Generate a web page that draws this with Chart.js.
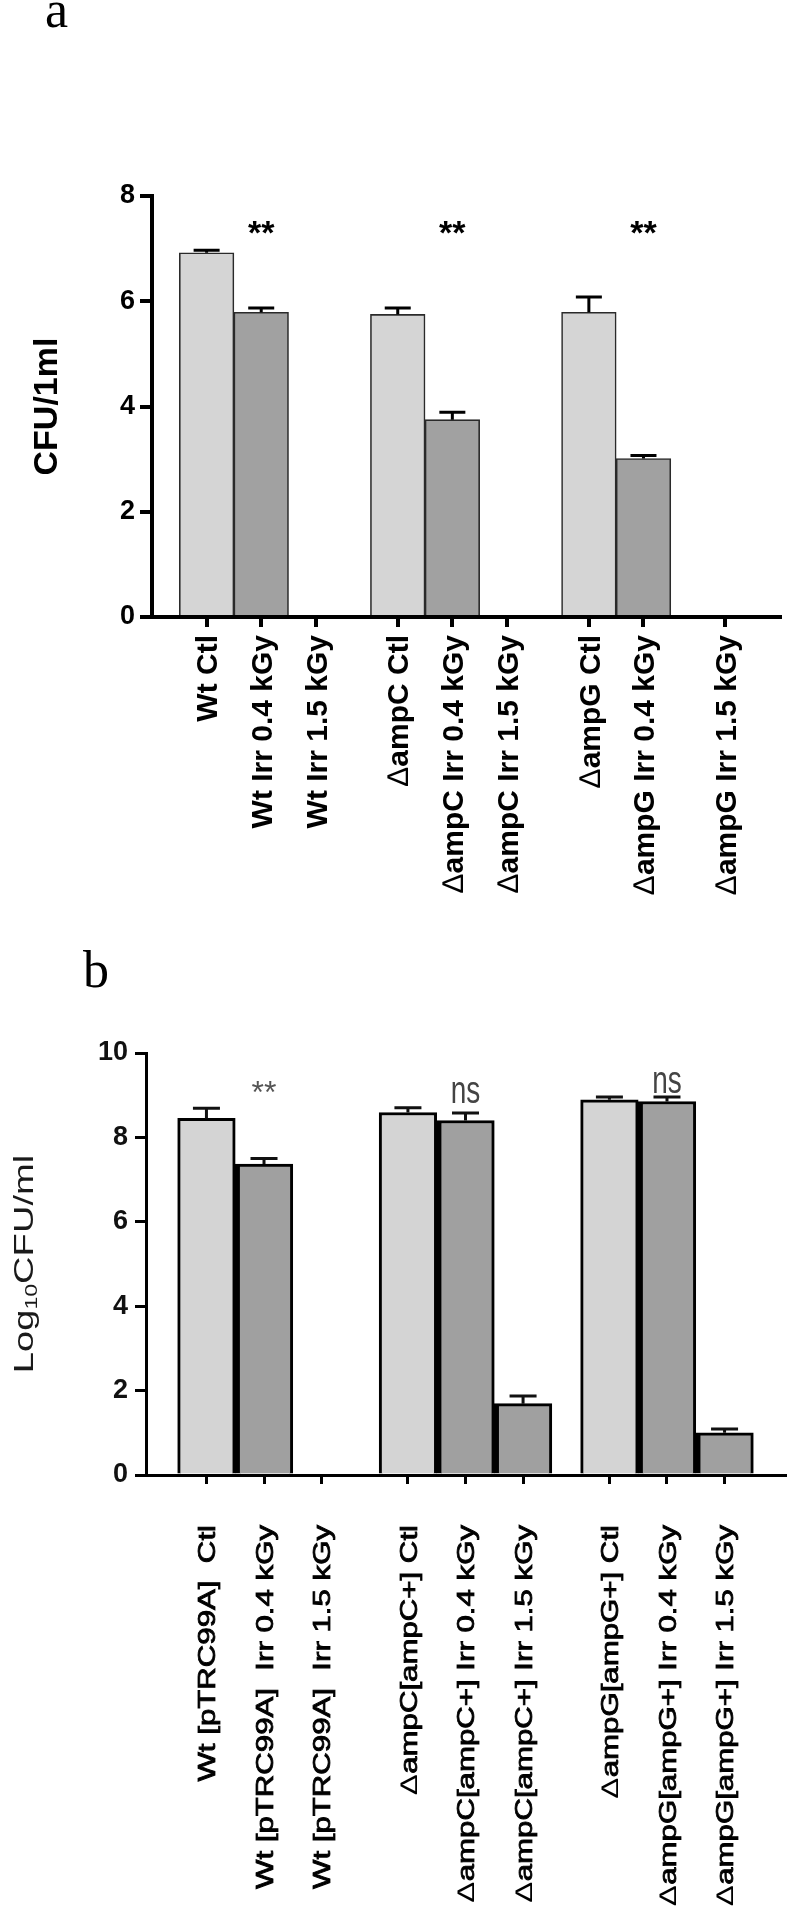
<!DOCTYPE html>
<html><head><meta charset="utf-8">
<script src="https://cdn.jsdelivr.net/npm/chart.js@4.4.1/dist/chart.umd.min.js"></script>
<style>
html,body{margin:0;padding:0;background:#fff;}
#wrap{position:relative;width:787px;height:1909px;overflow:hidden;}
#ca{position:absolute;left:0;top:0;}
#cb{position:absolute;left:0;top:940px;}
</style></head><body>
<div id="wrap">
<canvas id="ca" width="787" height="940"></canvas>
<canvas id="cb" width="787" height="969"></canvas>
</div>
<script>
// ---------- Panel a data ----------
const labelsA = ['Wt Ctl', 'Wt Irr 0.4 kGy', 'Wt Irr 1.5 kGy',
  '\u2206ampC Ctl', '\u2206ampC Irr 0.4 kGy', '\u2206ampC Irr 1.5 kGy',
  '\u2206ampG Ctl', '\u2206ampG Irr 0.4 kGy', '\u2206ampG Irr 1.5 kGy'];
const ctlA = [6.92, 5.75, 5.79];
const ctlErrA = [0.05, 0.12, 0.29];
const irr04A = [5.79, 3.75, 3.01];
const irr04ErrA = [0.08, 0.14, 0.06];
const irr15A = [0, 0, 0];
const irr15ErrA = [0, 0, 0];
const sigA = ['**', '**', '**'];
const sigLevelA = [7.09, 7.09, 7.09];
const yTitleA = 'CFU/1ml';

// ---------- Panel b data ----------
const labelsB = ['Wt [pTRC99A]  Ctl', 'Wt [pTRC99A]  Irr 0.4 kGy', 'Wt [pTRC99A]  Irr 1.5 kGy',
  '\u2206ampC[ampC+] Ctl', '\u2206ampC[ampC+] Irr 0.4 kGy', '\u2206ampC[ampC+] Irr 1.5 kGy',
  '\u2206ampG[ampG+] Ctl', '\u2206ampG[ampG+] Irr 0.4 kGy', '\u2206ampG[ampG+] Irr 1.5 kGy'];
const ctlB = [8.45, 8.59, 8.89];
const ctlErrB = [0.24, 0.11, 0.07];
const irr04B = [7.37, 8.40, 8.85];
const irr04ErrB = [0.13, 0.18, 0.11];
const irr15B = [0, 1.69, 1.00];
const irr15ErrB = [0, 0.18, 0.09];
const sigB = ['**', 'ns', 'ns'];
const sigLevelB = [8.82, 8.81, 9.06];
const yTitleB = ['Log', '10', 'CFU/ml'];

const doseNames = ['Ctl', 'Irr 0.4 kGy', 'Irr 1.5 kGy'];

// ---------- helpers ----------
const FONT = "'Liberation Sans', Arial, sans-serif";
const SERIF = "'Liberation Serif', 'Times New Roman', serif";
const DELTA = '\u2206';
function slot(s, d) { return s * 3.5 + d; }   // 3 bars per strain, half-slot gap between strains

function buildSets(series, errs, fills, borderW, borderC) {
  return series.map((vals, d) => ({
    label: doseNames[d],
    data: vals.map((v, s) => ({ x: slot(s, d), y: v })),
    errors: errs[d],
    backgroundColor: fills[d],
    borderColor: borderC,
    borderWidth: borderW[d],
    grouped: false,
    barPercentage: 1,
    categoryPercentage: 1
  }));
}

const errorBars = {
  id: 'errorBars',
  afterDatasetsDraw(chart, args, o) {
    const ctx = chart.ctx, ys = chart.scales.y;
    chart.data.datasets.forEach((ds, di) => {
      const meta = chart.getDatasetMeta(di);
      meta.data.forEach((el, i) => {
        const e = ds.errors[i];
        if (!e) return;
        const v = ds.data[i].y;
        const y0 = ys.getPixelForValue(v), y1 = ys.getPixelForValue(v + e);
        ctx.save();
        ctx.strokeStyle = o.color; ctx.lineWidth = o.width; ctx.lineCap = 'butt';
        ctx.beginPath();
        ctx.moveTo(el.x, y0); ctx.lineTo(el.x, y1);
        ctx.moveTo(el.x - o.cap / 2, y1); ctx.lineTo(el.x + o.cap / 2, y1);
        ctx.stroke();
        ctx.restore();
      });
    });
  }
};

const sigMarks = {
  id: 'sigMarks',
  afterDatasetsDraw(chart, args, o) {
    const ctx = chart.ctx, xs = chart.scales.x, ys = chart.scales.y;
    o.texts.forEach((t, s) => {
      const st = o.styles[t];
      const x = xs.getPixelForValue(slot(s, o.dose));
      const y = ys.getPixelForValue(o.levels[s]);
      ctx.save();
      ctx.translate(x, y); ctx.scale(1, st.stretch);
      ctx.font = `${st.weight} ${st.size}px ${FONT}`;
      ctx.fillStyle = st.color; ctx.textAlign = 'center'; ctx.textBaseline = 'alphabetic';
      ctx.fillText(t, 0, 0);
      ctx.restore();
    });
  }
};

const panelLetter = {
  id: 'panelLetter',
  afterDraw(chart, args, o) {
    const ctx = chart.ctx;
    ctx.save();
    ctx.font = `${o.size}px ${SERIF}`; ctx.fillStyle = '#000';
    ctx.textAlign = 'left'; ctx.textBaseline = 'alphabetic';
    ctx.fillText(o.text, o.x, o.y);
    ctx.restore();
  }
};

// x category labels, rotated to read bottom-to-top, anchored at each tick of the x scale
const rotatedLabels = {
  id: 'rotatedLabels',
  afterDraw(chart, args, o) {
    if (!o.labels) return;
    const xs = chart.scales.x, ctx = chart.ctx;
    xs.ticks.forEach((t, i) => {
      const x = xs.getPixelForValue(t.value);
      const text = o.labels[i];
      const hasDelta = text.startsWith(DELTA);
      const rest = hasDelta ? text.slice(1) : text;
      ctx.save();
      ctx.translate(x, xs.top + o.offset);
      ctx.rotate(-Math.PI / 2);
      ctx.scale(o.stretch, 1);
      ctx.fillStyle = o.color; ctx.strokeStyle = o.color; ctx.lineWidth = o.outline || 0;
      ctx.textAlign = 'right'; ctx.textBaseline = 'alphabetic';
      const base = o.size * 0.716 / 2;
      ctx.font = `${o.weight} ${o.size}px ${FONT}`;
      ctx.fillText(rest, 0, base);
      if (o.outline) ctx.strokeText(rest, 0, base);
      if (hasDelta) {
        const w = ctx.measureText(rest).width;
        ctx.font = `normal ${o.deltaSize}px ${FONT}`;
        ctx.fillText(DELTA, -w - 1, base);
      }
      ctx.restore();
    });
  }
};

const stretchedTitle = {
  id: 'stretchedTitle',
  afterDraw(chart, args, o) {
    if (!o.parts) return;
    const ys = chart.scales.y, ctx = chart.ctx;
    const cy = (ys.top + ys.bottom) / 2;
    ctx.save();
    ctx.translate(o.x, cy); ctx.rotate(-Math.PI / 2); ctx.scale(o.stretch, 1);
    ctx.fillStyle = o.color; ctx.textBaseline = 'alphabetic'; ctx.textAlign = 'left';
    const main = `${o.size}px ${FONT}`, sub = `${o.subSize}px ${FONT}`;
    ctx.font = main;
    const w1 = ctx.measureText(o.parts[0]).width, w3 = ctx.measureText(o.parts[2]).width;
    ctx.font = sub;
    const w2 = ctx.measureText(o.parts[1]).width;
    const x0 = -(w1 + w2 + w3) / 2, base = o.size * 0.716 / 2;
    ctx.font = main; ctx.fillText(o.parts[0], x0, base);
    ctx.font = sub; ctx.fillText(o.parts[1], x0 + w1, base + o.subShift);
    ctx.font = main; ctx.fillText(o.parts[2], x0 + w1 + w2, base);
    ctx.restore();
  }
};

// ---------- Panel a ----------
const tickPosA = labelsA.map((_, i) => slot(Math.floor(i / 3), i % 3));
tickPosA[8] += 0.5;

new Chart(document.getElementById('ca'), {
  type: 'bar',
  data: { datasets: buildSets([ctlA, irr04A, irr15A], [ctlErrA, irr04ErrA, irr15ErrA],
    ['#d5d5d5', '#a1a1a1', '#a1a1a1'], [1.6, 1.6, 1.6], '#2a2a2a') },
  options: {
    responsive: false, animation: false, devicePixelRatio: 1,
    layout: { padding: { top: 196, right: 7, bottom: 0, left: 0 } },
    plugins: {
      legend: { display: false }, tooltip: { enabled: false },
      errorBars: { color: '#000', width: 3, cap: 26 },
      sigMarks: { texts: sigA, levels: sigLevelA, dose: 1,
        styles: { '**': { size: 34, weight: 'bold', color: '#000', stretch: 1 } } },
      panelLetter: { text: 'a', x: 45, y: 27, size: 52 },
      rotatedLabels: { labels: labelsA, offset: 18, size: 30, deltaSize: 30, weight: 'bold', color: '#000', stretch: 1 },
      stretchedTitle: {}
    },
    scales: {
      x: {
        type: 'linear', min: -1, max: 10.5, bounds: 'data', offset: false,
        afterBuildTicks: s => { s.ticks = tickPosA.map(v => ({ value: v })); },
        afterFit: s => { s.height = 323; },
        ticks: { display: false, autoSkip: false },
        grid: { offset: false, drawOnChartArea: false, drawTicks: true, tickLength: 10, lineWidth: 4, color: '#000' },
        border: { display: true, color: '#000', width: 4 }
      },
      y: {
        min: 0, max: 8,
        afterFit: s => { s.width = 152; },
        ticks: { stepSize: 2, padding: 5, color: '#000', font: { family: FONT, size: 27, weight: 'bold' } },
        grid: { drawOnChartArea: false, drawTicks: true, tickLength: 12, lineWidth: 4, color: '#000' },
        border: { display: true, color: '#000', width: 4 },
        title: { display: true, text: yTitleA, color: '#000', padding: { top: 27, bottom: 0 },
          font: { family: FONT, size: 34, weight: 'bold' } }
      }
    }
  },
  plugins: [errorBars, sigMarks, panelLetter, rotatedLabels, stretchedTitle]
});

// ---------- Panel b ----------
const tickPosB = labelsB.map((_, i) => slot(Math.floor(i / 3), i % 3));
const darkBorder = { left: 5, top: 3, right: 3, bottom: 0 };

new Chart(document.getElementById('cb'), {
  type: 'bar',
  data: { datasets: buildSets([ctlB, irr04B, irr15B], [ctlErrB, irr04ErrB, irr15ErrB],
    ['#d4d4d4', '#a0a0a0', '#a0a0a0'], [3, darkBorder, darkBorder], '#000') },
  options: {
    responsive: false, animation: false, devicePixelRatio: 1,
    layout: { padding: { top: 113, right: 2, bottom: 0, left: 0 } },
    plugins: {
      legend: { display: false }, tooltip: { enabled: false },
      errorBars: { color: '#111', width: 3, cap: 27 },
      sigMarks: { texts: sigB, levels: sigLevelB, dose: 1,
        styles: { '**': { size: 32, weight: 'normal', color: '#555', stretch: 1 },
                  'ns': { size: 28, weight: 'normal', color: '#444', stretch: 1.38 } } },
      panelLetter: { text: 'b', x: 83, y: 47, size: 52 },
      rotatedLabels: { labels: labelsB, offset: 50, size: 24, deltaSize: 24, weight: 'normal', color: '#000', stretch: 1.3, outline: 0.8 },
      stretchedTitle: { parts: yTitleB, x: 23, size: 28, subSize: 17, subShift: 4, stretch: 1.36, color: '#1a1a1a' }
    },
    scales: {
      x: {
        type: 'linear', min: -1.05, max: 10.05, bounds: 'data', offset: false,
        afterBuildTicks: s => { s.ticks = tickPosB.map(v => ({ value: v })); },
        afterFit: s => { s.height = 434; },
        ticks: { display: false },
        grid: { offset: false, drawOnChartArea: false, drawTicks: true, tickLength: 9, lineWidth: 3, color: '#000' },
        border: { display: true, color: '#000', width: 3 }
      },
      y: {
        min: 0, max: 10,
        afterFit: s => { s.width = 146; },
        ticks: { stepSize: 2, padding: 7, color: '#111', font: { family: FONT, size: 27, weight: 'bold' } },
        grid: { drawOnChartArea: false, drawTicks: true, tickLength: 11, lineWidth: 3, color: '#000' },
        border: { display: true, color: '#000', width: 3 }
      }
    }
  },
  plugins: [errorBars, sigMarks, panelLetter, rotatedLabels, stretchedTitle]
});
</script>
</body></html>
